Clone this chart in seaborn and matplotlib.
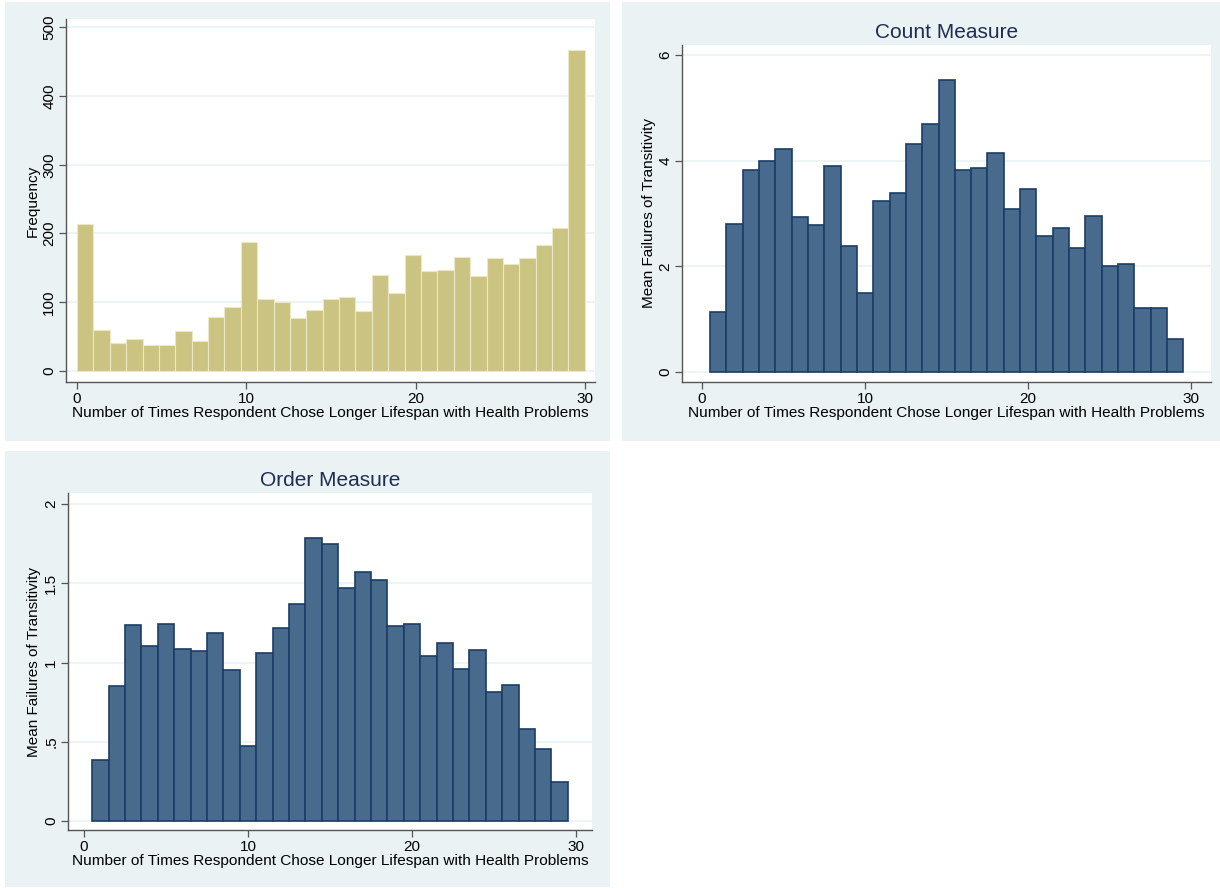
import numpy as np
import pandas as pd
import matplotlib
matplotlib.use("Agg")
import matplotlib.pyplot as plt
import seaborn as sns
from matplotlib.patches import Rectangle

# ---- data ----
times_all = list(range(0, 31))
frequency = [214, 60, 40, 47, 38, 38, 58, 43, 79, 93, 187, 104, 100, 77, 89, 105,
             108, 87, 140, 114, 169, 145, 147, 166, 138, 165, 156, 165, 183, 208, 467]

times_mid = list(range(1, 30))
count_measure = [1.13, 2.81, 3.82, 4.00, 4.23, 2.94, 2.79, 3.90, 2.39, 1.50,
                 3.23, 3.38, 4.32, 4.70, 5.53, 3.83, 3.87, 4.15, 3.08, 3.47,
                 2.58, 2.73, 2.34, 2.96, 2.01, 2.05, 1.22, 1.22, 0.62]
order_measure = [0.384, 0.85, 1.235, 1.107, 1.246, 1.088, 1.071, 1.189, 0.952, 0.473,
                 1.057, 1.22, 1.368, 1.788, 1.75, 1.468, 1.574, 1.523, 1.233, 1.246,
                 1.042, 1.126, 0.958, 1.082, 0.811, 0.857, 0.578, 0.452, 0.246]

xlabel = "Number of Times Respondent Chose Longer Lifespan with Health Problems"

sns.set_theme(style="white")
plt.rcParams['font.family'] = ['Liberation Sans', 'DejaVu Sans']

PANEL = "#EAF2F3"
GRID = "#EAF2F3"
AXC = "#555555"
TITLEC = "#1E2D53"
TAN = "#CBC381"
BLUE = "#486A8C"
BLUE_EDGE = "#1B3D66"

fig = plt.figure(figsize=(12.2, 8.88), dpi=100)
fig.patch.set_facecolor("white")

# panel backgrounds (figure pixel coords -> fractions)
W, H = 1220.0, 888.0
def frect(x0, y0, x1, y1):
    fig.patches.append(Rectangle((x0 / W, 1 - y1 / H), (x1 - x0) / W, (y1 - y0) / H,
                                 transform=fig.transFigure, facecolor=PANEL,
                                 edgecolor="none", zorder=-10))
frect(5, 2, 610, 441)
frect(622, 2, 1220, 441)
frect(5, 451, 610, 887)

def add_axes(x0, y0, x1, y1):
    return fig.add_axes([x0 / W, 1 - y1 / H, (x1 - x0) / W, (y1 - y0) / H])

ax1 = add_axes(66, 19, 595, 382)
ax2 = add_axes(682, 45, 1211, 382)
ax3 = add_axes(68, 493, 592, 830)

def style(ax, yticks, yticklabels, xlim, ylim, ylabel, title=None):
    ax.set_facecolor("white")
    ax.set_xlim(*xlim)
    ax.set_ylim(*ylim)
    ax.set_yticks(yticks)
    ax.set_yticklabels(yticklabels, rotation=90, va="center", fontsize=11)
    ax.set_xticks([0, 10, 20, 30])
    ax.set_xticklabels(["0", "10", "20", "30"], fontsize=11)
    ax.yaxis.grid(True, color=GRID, linewidth=1.2, zorder=0)
    ax.xaxis.grid(False)
    ax.set_axisbelow(True)
    for s in ["top", "right"]:
        ax.spines[s].set_visible(False)
    for s in ["left", "bottom"]:
        ax.spines[s].set_color(AXC)
        ax.spines[s].set_linewidth(1.0)
    ax.tick_params(axis="both", direction="out", length=5, width=0.9, color=AXC,
                   labelcolor="black", pad=2, left=True, bottom=True)
    ax.set_xlabel(xlabel, fontsize=11.1, labelpad=0, color="black")
    ax.set_ylabel(ylabel, fontsize=11, labelpad=2, color="black")
    if title:
        ax.set_title(title, fontsize=15, color=TITLEC, pad=5)

# top-left: frequency histogram
sns.histplot(x=times_all, weights=frequency, bins=31, binrange=(0, 30), ax=ax1,
             color=TAN, edgecolor="#ECE8C6", linewidth=0.8, alpha=1.0)
style(ax1, [0, 100, 200, 300, 400, 500], ["0", "100", "200", "300", "400", "500"],
      (-0.65, 30.6), (-16, 512), "Frequency")

# top-right: count measure
sns.histplot(x=times_mid, weights=count_measure, discrete=True, ax=ax2,
             color=BLUE, edgecolor=BLUE_EDGE, linewidth=1.2, alpha=1.0)
style(ax2, [0, 2, 4, 6], ["0", "2", "4", "6"],
      (-1.22, 31.2), (-0.19, 6.19), "Mean Failures of Transitivity", "Count Measure")

# bottom-left: order measure
sns.histplot(x=times_mid, weights=order_measure, discrete=True, ax=ax3,
             color=BLUE, edgecolor=BLUE_EDGE, linewidth=1.2, alpha=1.0)
style(ax3, [0, 0.5, 1, 1.5, 2], ["0", ".5", "1", "1.5", "2"],
      (-0.97, 30.97), (-0.057, 2.07), "Mean Failures of Transitivity", "Order Measure")

fig.savefig("out.png", dpi=100, facecolor="white")
